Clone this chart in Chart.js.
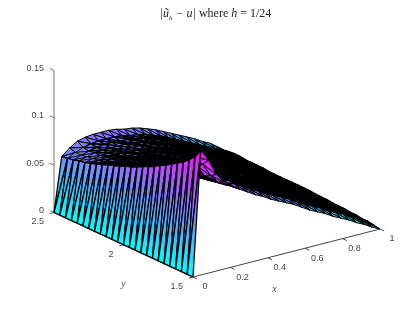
<!DOCTYPE html>
<html>
<head>
<meta charset="utf-8">
<script src="https://cdn.jsdelivr.net/npm/chart.js@4/dist/chart.umd.js"></script>
<style>
  body { margin: 0; background: #fff; }
  #wrap { position: relative; width: 415px; height: 312px; }
  #title { position: absolute; top: 6px; left: 0; width: 431px; text-align: center;
           font: 12px "Liberation Serif", serif; color: #222; white-space: nowrap; }
  #title sub { font-size: 7px; }
</style>
</head>
<body>
<div id="wrap">
  <div id="title"><i>|ũ<sub>h</sub> − u|</i> where <i>h</i> = 1/24</div>
  <canvas id="surface" width="415" height="312"></canvas>
</div>
<script>
const xTicks = [0, 0.2, 0.4, 0.6, 0.8, 1];
const xTickLabels = ['0', '0.2', '0.4', '0.6', '0.8', '1'];
const yTicks = [1.5, 2, 2.5];
const yTickLabels = ['1.5', '2', '2.5'];
const zTicks = [0, 0.05, 0.1, 0.15];
const zTickLabels = ['0', '0.05', '0.1', '0.15'];

// mesh lines, h = 1/24
const meshX = [0, 1/24, 2/24, 3/24, 4/24, 5/24, 6/24, 7/24, 8/24, 9/24, 10/24, 11/24, 12/24,
  13/24, 14/24, 15/24, 16/24, 17/24, 18/24, 19/24, 20/24, 21/24, 22/24, 23/24, 1];
const meshY = [1.5, 1.5+1/24, 1.5+2/24, 1.5+3/24, 1.5+4/24, 1.5+5/24, 1.5+6/24, 1.5+7/24, 1.5+8/24,
  1.5+9/24, 1.5+10/24, 1.5+11/24, 2, 2+1/24, 2+2/24, 2+3/24, 2+4/24, 2+5/24, 2+6/24, 2+7/24, 2+8/24,
  2+9/24, 2+10/24, 2+11/24, 2.5];

// error, in thousandths. one row per meshY, one column per meshX
const errorRows = [
  [0,132,119,102,92,86,80,75,70,66,61,57,53,49,44,39,35,31,26,22,18,13,9,4,0],
  [0,122,112,98,89,84,83,78,73,69,64,60,56,52,47,42,38,34,29,25,21,16,11,6,1],
  [0,116,107,95,88,83,84,79,74,70,65,61,57,53,48,43,39,35,30,26,22,17,12,7,2],
  [0,111,104,93,86,82,78,74,70,67,63,60,56,52,47,43,39,35,30,26,22,16,12,7,2],
  [0,107,101,91,85,81,77,74,70,67,63,60,56,53,48,43,39,35,31,26,22,17,12,7,3],
  [0,103,98,89,84,81,77,74,70,67,64,61,57,53,49,44,40,36,31,27,23,18,13,8,3],
  [0,99,95,87,83,80,76,74,70,67,64,61,57,54,49,45,41,37,32,28,24,18,13,8,4],
  [0,96,93,86,82,79,76,74,70,67,64,61,58,54,50,45,41,37,33,28,24,19,14,9,4],
  [0,92,90,85,81,79,76,73,71,68,65,62,58,55,50,46,42,38,33,29,25,19,14,9,4],
  [0,89,88,83,80,78,75,73,71,68,65,62,59,55,51,46,42,38,34,29,25,20,15,10,5],
  [0,86,84,81,78,76,74,72,70,67,64,61,58,55,51,47,43,39,35,30,26,20,15,10,5],
  [0,83,81,79,76,75,73,71,69,67,64,61,58,55,51,47,43,39,35,30,26,21,16,11,5],
  [0,80,78,77,75,73,72,71,69,66,64,61,58,55,50,47,43,39,35,30,26,21,16,11,6],
  [0,78,76,75,73,72,71,70,68,66,63,60,58,54,50,46,43,39,35,30,26,21,16,11,6],
  [0,75,74,73,72,71,70,69,67,65,63,60,57,54,50,46,42,38,34,30,26,21,16,11,6],
  [0,73,72,71,71,70,69,68,66,64,62,60,57,54,50,46,42,38,34,30,26,21,16,11,6],
  [0,71,70,70,70,69,68,67,65,63,62,60,57,54,50,46,42,38,34,30,26,21,16,11,6],
  [0,68,68,68,68,67,66,65,64,63,61,59,57,54,50,46,42,38,34,30,26,21,16,11,6],
  [0,66,66,67,67,66,66,65,64,63,61,59,57,54,50,46,42,38,34,30,26,21,16,11,6],
  [0,64,65,66,66,66,65,65,64,63,61,59,57,54,50,46,42,38,34,30,26,21,16,11,6],
  [0,62,64,65,66,66,65,65,65,63,62,60,57,54,50,46,42,38,34,30,26,21,16,11,7],
  [0,61,63,65,66,66,66,66,65,64,62,60,58,54,50,46,42,38,34,30,26,21,16,12,7],
  [0,59,62,64,66,67,67,66,66,64,63,61,58,55,51,47,43,39,35,31,27,22,16,12,7],
  [0,58,62,65,67,68,68,68,67,65,64,62,59,56,52,48,44,40,36,32,28,23,17,12,7],
  [0,57,64,69,71,72,72,72,71,69,68,66,63,60,56,52,48,44,40,35,31,25,19,14,8]
];

const errorMax = 132;

// orthographic view of the x/y/z box onto the plane of the chart
function view(x, y, z) {
  return {
    x: 187 * x - 139 * (y - 1.5),
    y: 48 * x + 64.5 * (y - 1.5) + 947 * z
  };
}

function coolColor(t) {
  return `rgb(${Math.round(255 * t)},${Math.round(255 * (1 - t))},255)`;
}

function corner(i, j) {
  return view(meshX[i], meshY[j], errorRows[j][i] / 1000);
}

// colour runs with height across the facet, so find the direction it climbs in on screen
function facetFill(chart, a, b, c) {
  const { x: sx, y: sy } = chart.scales;
  const pts = [a, b, c].map(n => {
    const p = corner(n[0], n[1]);
    return { x: sx.getPixelForValue(p.x), y: sy.getPixelForValue(p.y), z: errorRows[n[1]][n[0]] };
  });
  const ux = pts[1].x - pts[0].x, uy = pts[1].y - pts[0].y, uz = pts[1].z - pts[0].z;
  const vx = pts[2].x - pts[0].x, vy = pts[2].y - pts[0].y, vz = pts[2].z - pts[0].z;
  const det = ux * vy - vx * uy;
  const gx = (uz * vy - vz * uy) / det;
  const gy = (ux * vz - vx * uz) / det;
  const g2 = gx * gx + gy * gy;
  if (!(g2 > 1e-9)) return coolColor(pts[0].z / errorMax);
  const x0 = pts[0].x - gx * pts[0].z / g2;
  const y0 = pts[0].y - gy * pts[0].z / g2;
  const grad = chart.ctx.createLinearGradient(x0, y0, x0 + gx * errorMax / g2, y0 + gy * errorMax / g2);
  grad.addColorStop(0, coolColor(0));
  grad.addColorStop(1, coolColor(1));
  return grad;
}

function facet(a, b, c, width) {
  return {
    data: [corner(a[0], a[1]), corner(b[0], b[1]), corner(c[0], c[1]), corner(a[0], a[1])],
    showLine: true,
    fill: 'shape',
    backgroundColor: ctx => facetFill(ctx.chart, a, b, c),
    borderColor: '#000',
    borderWidth: width,
    pointRadius: 0,
    tension: 0
  };
}

function axisLine(from, to, color) {
  return {
    data: [from, to],
    showLine: true,
    fill: false,
    borderColor: color,
    borderWidth: 1,
    pointRadius: 0
  };
}

// the rim shows its colours, the inside of the surface is all mesh lines
function edgeWidth(i, j) {
  if (i === 0) return 1.3;
  if (j === 23 && i <= 21) return 1;
  if (j === 0) return 1;
  if (i <= 2 && (j >= 19 || j <= 1)) return 0.8;
  return 1.4;
}

const datasets = [];

// things in front come first, chart.js paints the last dataset first
datasets.push(axisLine(view(0, 1.5, 0), view(0, 2.5, 0), '#111'));
datasets.push(axisLine(view(0, 1.5, 0), view(1, 1.5, 0), '#444'));
xTicks.forEach(t => datasets.push(axisLine(view(t, 1.5, 0), view(t, 1.47, 0), '#444')));
yTicks.forEach(t => datasets.push(axisLine(view(0, t, 0), view(-0.022, t, 0), '#444')));

for (let i = 0; i < meshX.length - 1; i++) {
  for (let j = 0; j < meshY.length - 1; j++) {
    const w = edgeWidth(i, j);
    datasets.push(facet([i, j], [i + 1, j], [i, j + 1], w));
    datasets.push(facet([i + 1, j + 1], [i + 1, j], [i, j + 1], w));
  }
}

datasets.push(axisLine(view(0, 2.5, 0), view(0, 2.5, 0.15), '#777'));
zTicks.forEach(t => datasets.push(axisLine(view(0, 2.5, t), view(0, 2.53, t), '#777')));

const tickText = {
  id: 'tickText',
  afterDatasetsDraw(chart) {
    const { ctx, scales } = chart;
    const put = (p, dx, dy, text, align) => {
      ctx.textAlign = align;
      ctx.fillText(text, scales.x.getPixelForValue(p.x) + dx, scales.y.getPixelForValue(p.y) + dy);
    };
    ctx.save();
    ctx.fillStyle = '#444';
    ctx.textBaseline = 'middle';
    ctx.font = '9px "Liberation Sans", sans-serif';
    xTicks.forEach((t, n) => put(view(t, 1.5, 0), 12, 10, xTickLabels[n], 'center'));
    yTicks.forEach((t, n) => put(view(0, t, 0), -10, 9.5, yTickLabels[n], 'right'));
    zTicks.forEach((t, n) => put(view(0, 2.5, t), -10, -2, zTickLabels[n], 'right'));
    ctx.font = 'italic 10px "Liberation Serif", serif';
    put(view(0.5, 1.5, 0), -12, 36, 'x', 'center');
    put(view(0, 2, 0), 0, 40, 'y', 'center');
    ctx.restore();
  }
};

new Chart(document.getElementById('surface'), {
  type: 'scatter',
  data: { datasets },
  plugins: [tickText],
  options: {
    responsive: false,
    animation: false,
    events: [],
    layout: { padding: 0 },
    plugins: { legend: { display: false }, tooltip: { enabled: false }, title: { display: false } },
    scales: {
      x: { type: 'linear', display: false, min: -193, max: 222 },
      y: { type: 'linear', display: false, min: -35, max: 277 }
    }
  }
});
</script>
</body>
</html>
